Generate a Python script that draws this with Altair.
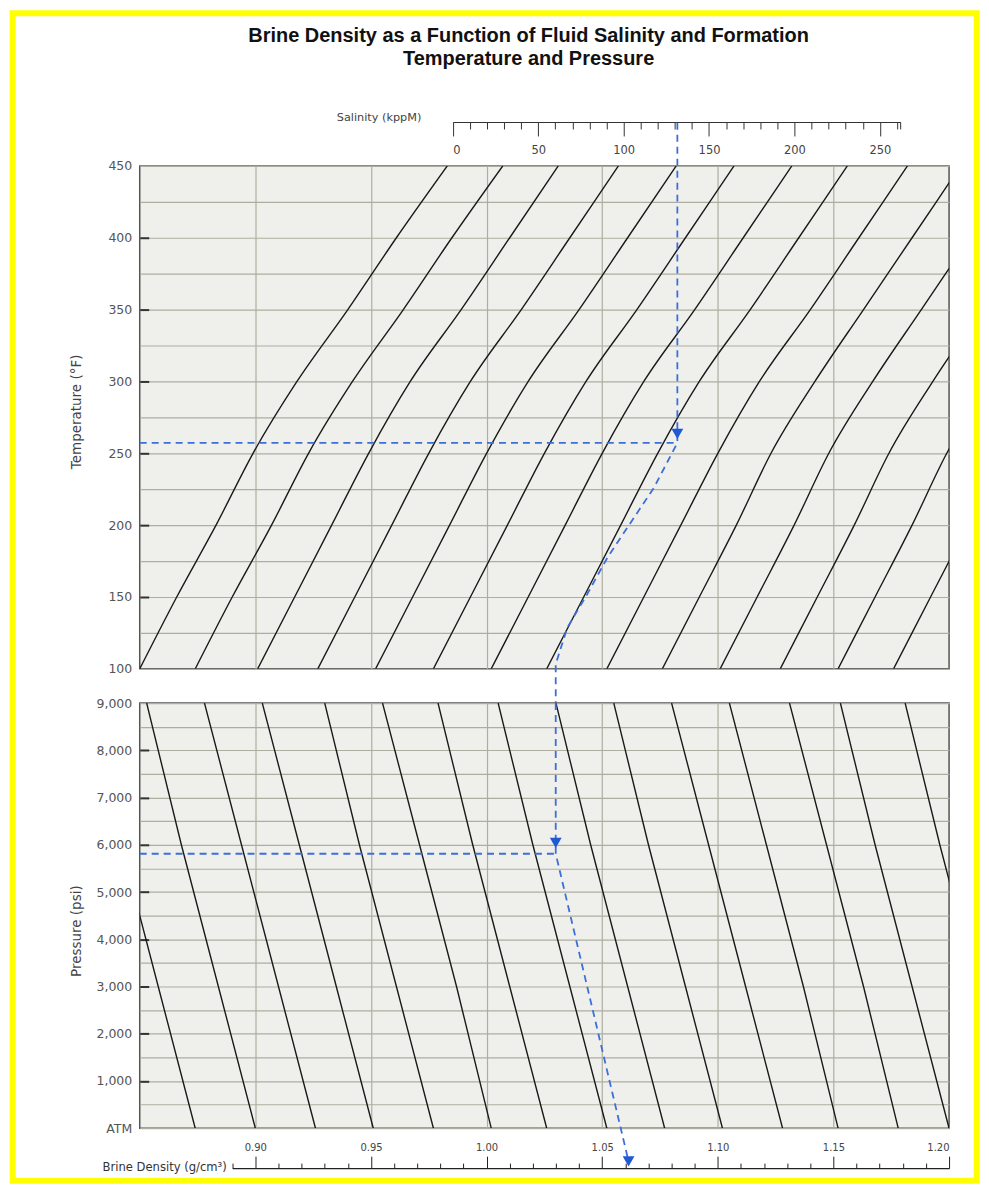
import altair as alt
import pandas as pd

TITLE = ["Brine Density as a Function of Fluid Salinity and Formation",
         "Temperature and Pressure"]

# ---- data ----
# upper nomogram: density (g/cm3) of every curve at these temperatures (°F)
temp_levels = [100, 150, 200, 250, 300, 350, 400, 450]
upper_curves = [
    [0.850, 0.866, 0.883, 0.899, 0.918, 0.940, 0.961, 0.983],
    [0.874, 0.890, 0.907, 0.923, 0.942, 0.964, 0.985, 1.007],
    [0.901, 0.917, 0.933, 0.949, 0.967, 0.989, 1.010, 1.031],
    [0.927, 0.943, 0.959, 0.975, 0.993, 1.015, 1.036, 1.057],
    [0.952, 0.968, 0.984, 1.000, 1.018, 1.040, 1.061, 1.082],
    [0.977, 0.993, 1.009, 1.025, 1.043, 1.065, 1.086, 1.107],
    [1.002, 1.018, 1.034, 1.050, 1.068, 1.090, 1.111, 1.132],
    [1.026, 1.042, 1.058, 1.074, 1.092, 1.114, 1.135, 1.156],
    [1.052, 1.068, 1.084, 1.100, 1.118, 1.140, 1.161, 1.182],
    [1.076, 1.092, 1.108, 1.123, 1.142, 1.163, 1.184, 1.205],
    [1.101, 1.117, 1.133, 1.148, 1.167, 1.188, 1.209, 1.230],
    [1.127, 1.143, 1.159, 1.174, 1.193, 1.214, 1.235, 1.256],
    [1.152, 1.168, 1.184, 1.199, 1.218, 1.239, 1.260, 1.281],
    [1.176, 1.192, 1.208, 1.223, 1.242, 1.263, 1.284, 1.305],
]

# lower nomogram: density of every curve at these pressures (psi, 0 = ATM)
pressure_levels = [9000, 6000, 3000, 0]
lower_curves = [
    [0.827, 0.842, 0.858, 0.874],
    [0.853, 0.868, 0.884, 0.900],
    [0.878, 0.894, 0.910, 0.926],
    [0.903, 0.919, 0.935, 0.951],
    [0.930, 0.945, 0.961, 0.977],
    [0.955, 0.971, 0.987, 1.002],
    [0.979, 0.994, 1.010, 1.026],
    [1.005, 1.020, 1.036, 1.052],
    [1.030, 1.045, 1.061, 1.077],
    [1.055, 1.070, 1.086, 1.102],
    [1.080, 1.096, 1.112, 1.128],
    [1.105, 1.121, 1.137, 1.152],
    [1.131, 1.147, 1.163, 1.178],
    [1.153, 1.168, 1.184, 1.200],
    [1.181, 1.196, 1.212, 1.228],
]

# worked example (blue dashed route)
route_up_d = [1.0825, 1.0825, 1.0723, 1.0608, 1.0522, 1.0435, 1.0349, 1.0299, 1.0299]
route_up_t = [480, 257.2, 225.9, 198.1, 177.3, 151.9, 128.7, 103.3, 76.2]
temp_read_d = [0.85, 1.0825]
temp_read_t = [257.2, 257.2]
arrow_up_d = [1.0825]
arrow_up_t = [263.5]

route_lo_d = [1.0299, 1.0299, 1.0612]
route_lo_p = [9000, 5810, -660]
pres_read_d = [0.85, 1.0299]
pres_read_p = [5810, 5810]
arrow_lo_d = [1.0299, 1.0614]
arrow_lo_p = [6040, -700]

# axis ticks
density_grid = [0.90, 0.95, 1.00, 1.05, 1.10, 1.15]
temp_ticks = list(range(100, 451, 25))
temp_marks = [150, 200, 250, 300, 350, 400]
pressure_ticks = list(range(0, 9001, 500))
pressure_marks = [1000, 2000, 3000, 4000, 5000, 6000, 7000, 8000]
salinity_ticks = list(range(0, 261, 10)) + [262]
ruler_ticks = [round(0.89 + 0.01 * i, 2) for i in range(32)]

# ---- styling ----
W, H1, H2 = 811, 504, 426
GRID = "#aeaea0"
BLUE = "#3d6fd9"
BLUE2 = "#1f5ad4"
INK = "#1a1a1a"
LBL = "#555555"
AF = "DejaVu Sans"

up_df = pd.DataFrame([{"curve": i, "d": d, "t": t}
                      for i, row in enumerate(upper_curves)
                      for d, t in zip(row, temp_levels)])
lo_df = pd.DataFrame([{"curve": i, "d": d, "p": p}
                      for i, row in enumerate(lower_curves)
                      for d, p in zip(row, pressure_levels)])

route_up = pd.DataFrame(
    [{"seg": "a", "i": k, "d": d, "t": t} for k, (d, t) in enumerate(zip(route_up_d, route_up_t))]
    + [{"seg": "b", "i": k, "d": d, "t": t} for k, (d, t) in enumerate(zip(temp_read_d, temp_read_t))])
route_lo = pd.DataFrame(
    [{"seg": "a", "i": k, "d": d, "p": p} for k, (d, p) in enumerate(zip(route_lo_d, route_lo_p))]
    + [{"seg": "b", "i": k, "d": d, "p": p} for k, (d, p) in enumerate(zip(pres_read_d, pres_read_p))])
arrows_up = pd.DataFrame({"d": arrow_up_d, "t": arrow_up_t})
arrows_lo = pd.DataFrame({"d": arrow_lo_d, "p": arrow_lo_p})

xs = alt.Scale(domain=[0.85, 1.20], nice=False, zero=False)
ts = alt.Scale(domain=[100, 450], nice=False, zero=False)
ps = alt.Scale(domain=[0, 9000], nice=False, zero=False)

x_grid = alt.Axis(values=density_grid, grid=True, labels=False, ticks=False, domain=False,
                  title=None, gridColor=GRID, gridWidth=1.2)
t_axis = alt.Axis(values=temp_ticks, grid=True, gridColor=GRID, gridWidth=1.2, ticks=False,
                  domain=False, labelExpr="datum.value % 50 === 0 ? datum.label : ''",
                  labelFont=AF, labelFontSize=12.5, labelColor=LBL, labelPadding=8,
                  title="Temperature (°F)", titleX=-63, titleY=246, titleAngle=270,
                  titleAlign="center", titleBaseline="middle", titleFont=AF, titleFontSize=13.5,
                  titleFontWeight="normal", titleColor="#444")
p_axis = alt.Axis(values=pressure_ticks, grid=True, gridColor=GRID, gridWidth=1.2, ticks=False,
                  domain=False,
                  labelExpr="datum.value % 1000 === 0 ? (datum.value === 0 ? 'ATM' : format(datum.value, ',')) : ''",
                  labelFont=AF, labelFontSize=12.5, labelColor=LBL, labelPadding=8,
                  title="Pressure (psi)", titleX=-63, titleY=228, titleAngle=270,
                  titleAlign="center", titleBaseline="middle", titleFont=AF, titleFontSize=13.5,
                  titleFontWeight="normal", titleColor="#444")

X = alt.X("d:Q", scale=xs, axis=x_grid)
YT = alt.Y("t:Q", scale=ts, axis=t_axis)
YP = alt.Y("p:Q", scale=ps, axis=p_axis)

frame = alt.Chart(alt.Data(values=[{"f": 1}])).mark_rect(
    fill="transparent", stroke="#ffff00", strokeWidth=6
).encode(x=alt.value(-127.3), x2=alt.value(838.7), y=alt.value(-153), y2=alt.value(1017))

curves_up = alt.Chart(up_df).mark_line(color=INK, strokeWidth=1.4, clip=True,
                                       interpolate="monotone").encode(x=X, y=YT, detail="curve:N")
dash_up = alt.Chart(route_up).mark_line(color=BLUE, strokeDash=[7, 5], strokeWidth=1.8).encode(
    x=X, y=YT, detail="seg:N", order="i:Q")
arrow_up = alt.Chart(arrows_up).mark_point(shape="triangle-down", filled=True, size=140,
                                           color=BLUE2, opacity=1).encode(x=X, y=YT)

sal_df = pd.DataFrame({"s": [0, 262], "t": [100, 450]})
sal = alt.Chart(sal_df).mark_point(opacity=0).encode(
    x=alt.X("s:Q", scale=alt.Scale(domain=[0, 262], range=[313.7, 762.2], nice=False, zero=False),
            axis=alt.Axis(orient="bottom", offset=-548, values=salinity_ticks, grid=False,
                          domainColor="#333", domainWidth=1.2, tickColor="#333", tickWidth=1,
                          tickSize={"condition": {"test": "datum.value % 50 === 0 && datum.value <= 250", "value": 14}, "value": 7},
                          labelExpr="datum.value % 50 === 0 && datum.value <= 250 ? datum.label : ''",
                          labelFont=AF, labelFontSize=11.5, labelColor="#444", labelPadding=9,
                          title="Salinity (kppM)", titleX=281.7, titleY=-4, titleAngle=0,
                          titleAlign="right", titleBaseline="middle", titleFont=AF, titleFontSize=11.3,
                          titleFontWeight="normal", titleColor="#444")),
    y=alt.Y("t:Q", scale=ts,
            axis=alt.Axis(orient="right", offset=-W, values=temp_marks, labels=False, domain=False,
                          grid=False, tickSize=9, tickWidth=2, tickColor="#333", title=None)),
)

upper = alt.layer(alt.layer(frame, curves_up, dash_up, arrow_up), sal).resolve_scale(
    x="independent").resolve_axis(x="independent", y="independent").properties(width=W, height=H1)

XL = alt.X("d:Q", scale=xs, axis=x_grid)
curves_lo = alt.Chart(lo_df).mark_line(color=INK, strokeWidth=1.4, clip=True).encode(
    x=XL, y=YP, detail="curve:N")
dash_lo = alt.Chart(route_lo).mark_line(color=BLUE, strokeDash=[7, 5], strokeWidth=1.8).encode(
    x=XL, y=YP, detail="seg:N", order="i:Q")
arrow_lo = alt.Chart(arrows_lo).mark_point(shape="triangle-down", filled=True, size=140,
                                           color=BLUE2, opacity=1).encode(x=XL, y=YP)

ruler_df = pd.DataFrame({"r": [0.89, 1.20], "p": [0, 9000]})
ruler = alt.Chart(ruler_df).mark_point(opacity=0).encode(
    x=alt.X("r:Q", scale=alt.Scale(domain=[0.89, 1.20], range=[92.69, 811], nice=False, zero=False),
            axis=alt.Axis(orient="top", offset=-466, values=ruler_ticks, grid=False,
                          domainColor="#222", domainWidth=1.5, tickColor="#222", tickWidth=1,
                          tickSize={"condition": {"test": "round(datum.value * 100) % 5 === 0", "value": 12}, "value": 5},
                          labelExpr="round(datum.value * 100) % 5 === 0 ? format(datum.value, '.2f') : ''",
                          labelFont=AF, labelFontSize=10, labelColor="#444", labelPadding=4,
                          title="Brine Density (g/cm³)", titleX=86.7, titleY=-1, titleAngle=0,
                          titleAlign="right", titleBaseline="middle", titleFont=AF, titleFontSize=11.6,
                          titleFontWeight="normal", titleColor="#333")),
    y=alt.Y("p:Q", scale=ps,
            axis=alt.Axis(orient="right", offset=-W, values=pressure_marks, labels=False, domain=False,
                          grid=False, tickSize=9, tickWidth=2, tickColor="#333", title=None)),
)

lower = alt.layer(alt.layer(curves_lo, dash_lo, arrow_lo), ruler).resolve_scale(
    x="independent").resolve_axis(x="independent", y="independent").properties(width=W, height=H2)

chart = alt.vconcat(upper, lower, spacing=34.3, bounds="flush").properties(
    title=alt.TitleParams(text=TITLE, fontSize=20, fontWeight="bold", font="Liberation Sans",
                          color="#111", anchor="middle", dx=34, dy=64, lineHeight=23),
    padding=0, background="white",
).configure(font="Liberation Sans").configure_view(fill="#efefec", stroke="#555", strokeWidth=1.5)

chart.save("out.html", embed_options={"renderer": "svg", "actions": False})
